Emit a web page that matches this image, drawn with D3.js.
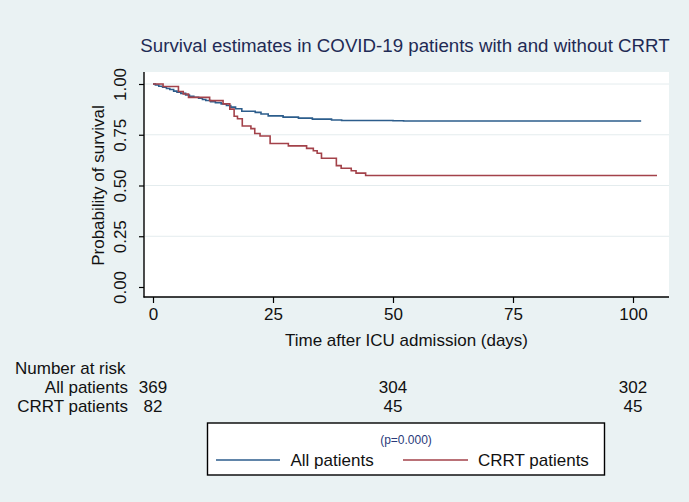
<!DOCTYPE html>
<html>
<head>
<meta charset="utf-8">
<script src="https://cdn.jsdelivr.net/npm/d3@7"></script>
<style>
  html, body { margin: 0; padding: 0; background: #eaf2f3; }
  svg { display: block; font-family: "Liberation Sans", Arial, Helvetica, sans-serif; }
</style>
</head>
<body>
<svg id="chart" width="689" height="502"></svg>
<script>
// ---- Data ----
const chartTitle = "Survival estimates in COVID-19 patients with and without CRRT";
const seriesNames = ["All patients", "CRRT patients"];

// All patients: Kaplan–Meier step points (days, survival)
const allDays = [0, 0.5, 1.2, 2.0, 2.8, 3.5, 4.3, 5.0, 5.8, 6.8, 7.6, 8.5, 9.5, 10.3, 11.0, 12.0, 13.0, 14.2, 15.3, 16.2, 17.2, 18.5, 21.3, 22.5, 24.0, 27.1, 30.3, 33.2, 37.2, 39.3, 50.0, 52.2, 101.7];
const allSurv = [1.000, 0.995, 0.989, 0.984, 0.978, 0.973, 0.965, 0.959, 0.954, 0.946, 0.940, 0.935, 0.930, 0.924, 0.919, 0.913, 0.908, 0.902, 0.894, 0.886, 0.878, 0.866, 0.860, 0.852, 0.843, 0.837, 0.832, 0.827, 0.823, 0.820, 0.819, 0.818, 0.818];

// CRRT patients
const crrtDays = [0, 2.1, 5.3, 6.3, 7.4, 11.8, 14.6, 16.0, 16.9, 17.6, 18.6, 20.4, 21.2, 22.3, 24.4, 28.2, 32.0, 33.4, 34.2, 35.1, 38.2, 39.2, 41.3, 42.3, 44.3, 105.0];
const crrtSurv = [1.000, 0.988, 0.963, 0.951, 0.934, 0.918, 0.902, 0.876, 0.841, 0.829, 0.793, 0.780, 0.756, 0.744, 0.707, 0.695, 0.683, 0.671, 0.659, 0.634, 0.598, 0.585, 0.573, 0.561, 0.549, 0.549];

// Number at risk table
const riskTimes = [0, 50, 100];
const riskAll = [369, 304, 302];
const riskCrrt = [82, 45, 45];

// Axis ticks
const xTicks = [0, 25, 50, 75, 100];
const yTicks = [0, 0.25, 0.5, 0.75, 1.0];
const yGridTicks = [0.25, 0.5, 0.75, 1.0];

// ---- Layout ----
const svg = d3.select("#chart");
const W = 689, H = 502;
const plot = { left: 144, right: 669, top: 72, bottom: 297 };
const colors = ["#2c5d8c", "#a3424a"];
const textColor = "#111111";
const fs = 17;

svg.append("rect").attr("width", W).attr("height", H).attr("fill", "#eaf2f3");

const x = d3.scaleLinear().domain([0, 100]).range([153, 633]);
const y = d3.scaleLinear().domain([0, 1]).range([287, 84]);

// plot region
svg.append("rect")
  .attr("x", plot.left).attr("y", plot.top)
  .attr("width", plot.right - plot.left).attr("height", plot.bottom - plot.top)
  .attr("fill", "#ffffff");

// gridlines
svg.append("g").selectAll("line").data(yGridTicks).join("line")
  .attr("x1", plot.left + 1).attr("x2", plot.right)
  .attr("y1", d => y(d)).attr("y2", d => y(d))
  .attr("stroke", "#e4ecee").attr("stroke-width", 1);

// title
svg.append("text")
  .attr("x", 405).attr("y", 52)
  .attr("text-anchor", "middle")
  .attr("font-size", 18.7)
  .attr("fill", "#1f2b55")
  .text(chartTitle);

// y axis
const yAxis = svg.append("g")
  .attr("transform", `translate(${plot.left},0)`)
  .call(d3.axisLeft(y).tickValues(yTicks).tickFormat(d3.format(".2f")).tickSize(5).tickSizeOuter(0));
yAxis.select(".domain").remove();
yAxis.selectAll(".tick line").attr("stroke", "#000").attr("stroke-width", 1.2);
yAxis.selectAll(".tick text")
  .attr("font-size", fs).attr("fill", textColor)
  .attr("font-family", "Liberation Sans, Arial, sans-serif")
  .attr("transform", "rotate(-90)")
  .attr("x", 0).attr("y", -18)
  .attr("dy", "0")
  .attr("text-anchor", "middle");
svg.append("line")
  .attr("x1", plot.left).attr("x2", plot.left)
  .attr("y1", plot.top).attr("y2", plot.bottom + 0.5)
  .attr("stroke", "#000").attr("stroke-width", 1.4);

// x axis
const xAxis = svg.append("g")
  .attr("transform", `translate(0,${plot.bottom})`)
  .call(d3.axisBottom(x).tickValues(xTicks).tickFormat(d3.format("d")).tickSize(6).tickSizeOuter(0));
xAxis.select(".domain").remove();
xAxis.selectAll(".tick line").attr("stroke", "#000").attr("stroke-width", 1.2);
xAxis.selectAll(".tick text")
  .attr("font-size", fs).attr("fill", textColor)
  .attr("font-family", "Liberation Sans, Arial, sans-serif")
  .attr("y", 11).attr("dy", "0.71em");
svg.append("line")
  .attr("x1", plot.left - 0.5).attr("x2", plot.right)
  .attr("y1", plot.bottom).attr("y2", plot.bottom)
  .attr("stroke", "#000").attr("stroke-width", 1.4);

// axis titles
svg.append("text")
  .attr("transform", `translate(104,${(y(0) + y(1)) / 2}) rotate(-90)`)
  .attr("text-anchor", "middle")
  .attr("font-size", fs).attr("fill", textColor)
  .text("Probability of survival");
svg.append("text")
  .attr("x", (plot.left + plot.right) / 2).attr("y", 346)
  .attr("text-anchor", "middle")
  .attr("font-size", fs).attr("fill", textColor)
  .text("Time after ICU admission (days)");

// survival curves
const line = d3.line().x(d => x(d[0])).y(d => y(d[1])).curve(d3.curveStepAfter);
const allPts = allDays.map((d, i) => [d, allSurv[i]]);
const crrtPts = crrtDays.map((d, i) => [d, crrtSurv[i]]);
[allPts, crrtPts].forEach((pts, i) => {
  svg.append("path")
    .attr("d", line(pts))
    .attr("fill", "none")
    .attr("stroke", colors[i])
    .attr("stroke-width", 1.6);
});

// number at risk
const risk = svg.append("g").attr("font-size", fs).attr("fill", textColor);
risk.append("text").attr("x", 15).attr("y", 374).text("Number at risk");
risk.append("text").attr("x", 128).attr("y", 393).attr("text-anchor", "end").text(seriesNames[0]);
risk.append("text").attr("x", 128).attr("y", 412).attr("text-anchor", "end").text(seriesNames[1]);
risk.selectAll(".rA").data(riskAll).join("text")
  .attr("x", (d, i) => x(riskTimes[i])).attr("y", 393).attr("text-anchor", "middle").text(d => d);
risk.selectAll(".rC").data(riskCrrt).join("text")
  .attr("x", (d, i) => x(riskTimes[i])).attr("y", 412).attr("text-anchor", "middle").text(d => d);

// legend
const lg = svg.append("g");
lg.append("rect")
  .attr("x", 207.5).attr("y", 423).attr("width", 397).attr("height", 52)
  .attr("fill", "#ffffff").attr("stroke", "#000").attr("stroke-width", 1.4);
lg.append("text")
  .attr("x", 406).attr("y", 443.5).attr("text-anchor", "middle")
  .attr("font-size", 12).attr("fill", "#2a3a7a")
  .text("(p=0.000)");
const legItems = [
  { x1: 216, x2: 280, tx: 290.5 },
  { x1: 403, x2: 468, tx: 478 }
];
legItems.forEach((it, i) => {
  lg.append("line").attr("x1", it.x1).attr("x2", it.x2).attr("y1", 460).attr("y2", 460)
    .attr("stroke", colors[i]).attr("stroke-width", 1.6);
  lg.append("text").attr("x", it.tx).attr("y", 466).attr("font-size", fs).attr("fill", textColor)
    .text(seriesNames[i]);
});
</script>
</body>
</html>
